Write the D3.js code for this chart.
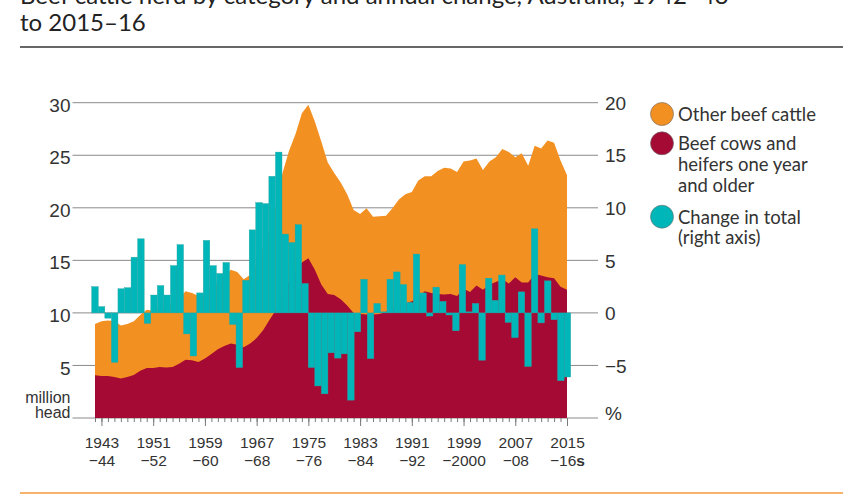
<!DOCTYPE html>
<html>
<head>
<meta charset="utf-8">
<script src="https://cdn.jsdelivr.net/npm/d3@7"></script>
<style>
	body { margin: 0; background: #fff; }
	svg { font-family: Lato, "Open Sans", sans-serif; }
</style>
</head>
<body>
<svg id="chart" width="860" height="500"></svg>
<script>
// Season start years, 1942-43 to 2015-16
const years = d3.range(1942, 2016);

// Total beef herd (million head), top of the orange area
const totals = [
	8.95, 9.2, 9.27, 9.22, 8.8, 8.95, 9.2, 9.8, 10.3, 10.2,
	10.4, 10.65, 10.85, 11.3, 12.05, 11.9, 11.6, 11.8, 12.45, 12.95,
	13.45, 14.1, 13.9, 13.2, 13.6, 14.7, 16.2, 17.9, 20.2, 23.3,
	25.4, 27.0, 29.0, 29.8, 28.2, 26.3, 24.3, 23.3, 22.4, 21.3,
	19.8, 19.4, 19.95, 19.15, 19.2, 19.25, 19.95, 20.8, 21.3, 21.5,
	22.6, 23.0, 23.0, 23.5, 23.8, 23.75, 23.4, 24.4, 24.5, 24.7,
	23.6, 24.4, 24.8, 25.6, 25.3, 24.8, 25.2, 24.0, 25.9, 25.65,
	26.4, 26.2, 24.5, 23.1
];

// Beef cows and heifers one year and older (million head)
const cows = [
	4.06, 4.0, 4.0, 3.9, 3.75, 3.9, 4.1, 4.5, 4.76, 4.76,
	4.86, 4.8, 4.86, 5.17, 5.55, 5.5, 5.33, 5.65, 6.1, 6.54,
	6.86, 7.08, 6.98, 6.73, 7.08, 7.6, 8.35, 9.35, 10.3, 11.7,
	13.0, 14.0, 14.8, 15.2, 14.1, 12.7, 11.8, 11.7, 11.3, 10.7,
	10.0, 9.9, 9.85, 9.85, 9.9, 10.1, 10.4, 10.7, 10.9, 11.1,
	11.5, 12.05, 11.9, 11.8, 11.75, 11.8, 11.6, 12.3, 12.0, 12.6,
	12.2, 12.7, 12.95, 13.2, 12.8, 13.4, 12.9, 12.9, 13.7, 13.55,
	13.4, 13.3, 12.5, 12.2
];

// Annual change in total (%), 1943-44 to 2015-16
const change = [
	2.5, 0.6, -0.5, -4.7, 2.3, 2.4, 5.3, 7.05, -1.0, 1.7,
	2.6, 1.7, 4.5, 6.5, -2.0, -4.1, 1.9, 6.9, 4.5, 3.75,
	4.8, -1.1, -5.2, 3.1, 7.9, 10.5, 10.4, 13.0, 15.3, 7.5,
	6.7, 8.4, 2.8, -5.2, -6.95, -7.7, -3.8, -4.3, -3.9, -8.3,
	-1.8, 3.2, -4.35, 0.9, 0.1, 3.2, 3.9, 2.7, 1.0, 5.6,
	1.9, -0.3, 2.45, 1.1, -0.2, -1.7, 4.6, 0.1, 0.9, -4.5,
	3.3, 1.2, 3.6, -0.9, -2.35, 2.0, -5.1, 8.0, -0.95, 3.05,
	-0.65, -6.45, -6.1
];
const changeYears = years.slice(1);

// Tick labels
const leftTicks = [5, 10, 15, 20, 25, 30];
const rightTicks = [-5, 0, 5, 10, 15, 20];
const labelYears = [1943, 1951, 1959, 1967, 1975, 1983, 1991, 1999, 2007, 2015];
const labelTops = ["1943", "1951", "1959", "1967", "1975", "1983", "1991", "1999", "2007", "2015"];
const labelBottoms = ["\u221244", "\u221252", "\u221260", "\u221268", "\u221276", "\u221284", "\u221292", "\u22122000", "\u221208", "\u221216"];

const legendItems = [
	{ color: "#f39022", lines: ["Other beef cattle"] },
	{ color: "#a50a35", lines: ["Beef cows and", "heifers one year", "and older"] },
	{ color: "#00b6b8", lines: ["Change in total", "(right axis)"] }
];

const svg = d3.select("#chart");
const textColor = "#333";

// Geometry
const plot = { left: 95, right: 567, top: 102.7, bottom: 418, gridLeft: 72.5, gridRight: 598 };

const x = d3.scaleLinear().domain([1942, 2015]).range([plot.left, plot.right]);
const xb = d3.scaleBand().domain(changeYears).range([plot.left - 3.3, plot.right + 3.7]).padding(0);
const yL = d3.scaleLinear().domain([0, 30]).range([plot.bottom, plot.top]);
const yR = d3.scaleLinear().domain([-10, 20]).range([plot.bottom, plot.top]);

// Title
svg.append("text")
	.attr("x", 20).attr("y", 4)
	.attr("font-size", 24).attr("fill", "#222")
	.text("Beef cattle herd by category and annual change, Australia, 1942\u201343");
svg.append("text")
	.attr("x", 20).attr("y", 31)
	.attr("font-size", 24).attr("fill", "#222")
	.text("to 2015\u201316");
svg.append("line")
	.attr("x1", 20).attr("x2", 843).attr("y1", 47).attr("y2", 47)
	.attr("stroke", "#333").attr("stroke-width", 1.5);
svg.append("line")
	.attr("x1", 20).attr("x2", 843).attr("y1", 493).attr("y2", 493)
	.attr("stroke", "#f7b26b").attr("stroke-width", 2);

// Gridlines
svg.append("g")
	.selectAll("line")
	.data([0].concat(leftTicks))
	.enter().append("line")
		.attr("x1", plot.gridLeft).attr("x2", plot.gridRight)
		.attr("y1", function(d) { return yL(d); })
		.attr("y2", function(d) { return yL(d); })
		.attr("stroke", "#8a8a8a").attr("stroke-width", 1);

// Areas
const stackArea = d3.area()
	.x(function(d, i) { return x(years[i]); })
	.y0(yL(0))
	.y1(function(d) { return yL(d); });

svg.append("path").datum(totals)
	.attr("fill", legendItems[0].color)
	.attr("d", stackArea);
svg.append("path").datum(cows)
	.attr("fill", legendItems[1].color)
	.attr("d", stackArea);

// Change bars
svg.append("g")
	.selectAll("rect")
	.data(change)
	.enter().append("rect")
		.attr("x", function(d, i) { return xb(changeYears[i]); })
		.attr("width", xb.bandwidth())
		.attr("y", function(d) { return yR(Math.max(0, d)); })
		.attr("height", function(d) { return Math.abs(yR(d) - yR(0)); })
		.attr("fill", legendItems[2].color)
		.attr("stroke", "#2aa6a6")
		.attr("stroke-width", 0.4);

// X axis: small ticks every year, longer ticks on labelled years
svg.append("g")
	.attr("transform", "translate(0," + plot.bottom + ")")
	.call(d3.axisBottom(x).tickValues(years).tickSize(4).tickFormat(""));
const xAxisMajor = svg.append("g")
	.attr("transform", "translate(0," + plot.bottom + ")")
	.call(d3.axisBottom(x).tickValues(labelYears).tickSize(8).tickFormat(""));
svg.selectAll(".domain").remove();
svg.selectAll(".tick line").attr("stroke", "#7a7a7a");

const xLabel = xAxisMajor.selectAll(".tick").append("text")
	.attr("fill", textColor)
	.attr("font-size", 15.5)
	.attr("text-anchor", "middle");
xLabel.append("tspan").attr("x", 0).attr("y", 30)
	.text(function(d, i) { return labelTops[i]; });
xLabel.append("tspan").attr("x", 0).attr("y", 48)
	.text(function(d, i) { return labelBottoms[i]; });
xLabel.filter(function(d) { return d === 2015; })
	.append("tspan").attr("font-weight", "bold").text("s");

// Left axis
const leftAxis = svg.append("g")
	.attr("transform", "translate(" + (plot.gridLeft - 2) + ",0)")
	.call(d3.axisLeft(yL).tickValues(leftTicks).tickSize(0).tickPadding(0));
leftAxis.select(".domain").remove();
leftAxis.selectAll("text")
	.attr("fill", textColor).attr("font-size", 19).attr("dy", "0.45em");
leftAxis.append("text")
	.attr("x", 0).attr("text-anchor", "end")
	.attr("fill", textColor).attr("font-size", 16)
	.selectAll("tspan")
	.data(["million", "head"])
	.enter().append("tspan")
		.attr("x", 0)
		.attr("y", function(d, i) { return yL(0) - 15.5 + i * 15.5; })
		.text(function(d) { return d; });

// Right axis
const rightAxis = svg.append("g")
	.attr("transform", "translate(" + plot.gridRight + ",0)")
	.call(d3.axisRight(yR).tickValues(rightTicks).tickSize(0).tickPadding(7)
		.tickFormat(function(d) { return d < 0 ? "\u2212" + Math.abs(d) : d; }));
rightAxis.select(".domain").remove();
rightAxis.selectAll("text")
	.attr("fill", textColor).attr("font-size", 19).attr("dy", "0.35em");
rightAxis.append("text")
	.attr("x", 7).attr("y", yR(-10)).attr("dy", "0.1em")
	.attr("fill", textColor).attr("font-size", 19)
	.text("%");

// Legend
const legendTop = [114, 143.3, 216.7];
const legend = svg.append("g")
	.selectAll(".legend")
	.data(legendItems)
	.enter().append("g")
		.attr("class", "legend")
		.attr("transform", function(d, i) { return "translate(662," + legendTop[i] + ")"; });

legend.append("circle")
	.attr("r", 11.5)
	.attr("fill", function(d) { return d.color; })
	.attr("stroke", "#6b6b6b").attr("stroke-width", 0.6);

legend.append("text")
	.attr("fill", textColor)
	.attr("font-size", 18.5)
	.selectAll("tspan")
	.data(function(d) { return d.lines; })
	.enter().append("tspan")
		.attr("x", 16)
		.attr("y", function(d, i) { return 6.8 + i * 20.8; })
		.text(function(d) { return d; });
</script>
</body>
</html>
